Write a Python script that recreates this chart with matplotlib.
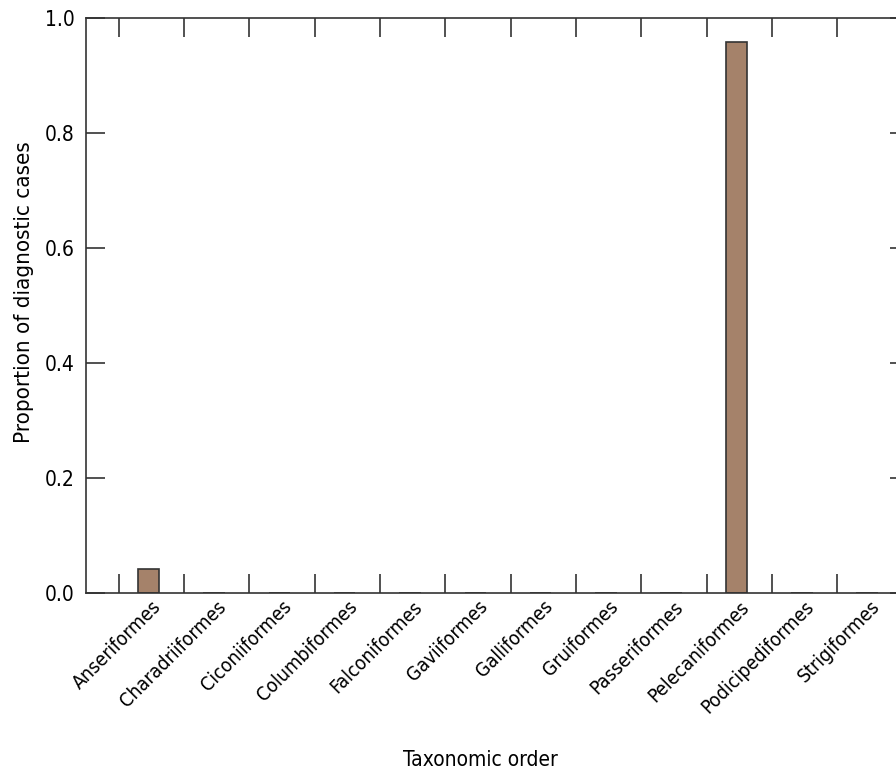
import matplotlib
matplotlib.use("Agg")
import matplotlib.pyplot as plt
import numpy as np

orders = ['Anseriformes', 'Charadriiformes', 'Ciconiiformes', 'Columbiformes',
          'Falconiformes', 'Gaviiformes', 'Galliformes', 'Gruiformes',
          'Passeriformes', 'Pelecaniformes', 'Podicipediformes', 'Strigiformes']
proportions = [0.042, 0.0, 0.0, 0.0, 0.0, 0.0, 0.0, 0.0, 0.0, 0.958, 0.0, 0.0]
y_ticks = [0.0, 0.2, 0.4, 0.6, 0.8, 1.0]

plt.rcParams['font.family'] = ['DejaVu Sans']
plt.rcParams['font.stretch'] = 'condensed'

fig = plt.figure(figsize=(8.96, 7.74), dpi=100)
# axes run past the right edge of the figure
ax = fig.add_axes([86 / 896, 1 - 593 / 774, (909 - 86) / 896, (593 - 18) / 774])

x = np.arange(len(orders))
ax.bar(x - 0.04, proportions, width=0.33, color='#a5826a', edgecolor='#333333', linewidth=1.2)

ax.set_xlim(-1, 11.6)
ax.set_ylim(0, 1.0)

ax.set_xticks(x)
ax.set_xticklabels(orders, rotation=45, ha='right', rotation_mode='anchor', fontsize=14)
ax.tick_params(axis='x', which='major', length=0, pad=3)
ax.set_xticks(np.arange(-0.5, len(orders), 1.0), minor=True)
ax.tick_params(axis='x', which='minor', direction='in', length=14, width=1.2,
               top=True, bottom=True, color='#333333')

ax.set_yticks(y_ticks)
ax.set_yticklabels([f'{v:.1f}' for v in y_ticks], fontsize=15)
ax.tick_params(axis='y', direction='in', length=14, width=1.2, left=True, right=True,
               color='#333333', pad=8)

for side in ax.spines.values():
    side.set_linewidth(1.2)
    side.set_color('#333333')

fig.text(24 / 896, 1 - 292 / 774, 'Proportion of diagnostic cases', fontsize=16,
         rotation=90, ha='center', va='center')
fig.text(480 / 896, 1 - 760 / 774, 'Taxonomic order', fontsize=15, ha='center', va='center')

fig.savefig('out.png', dpi=100)
